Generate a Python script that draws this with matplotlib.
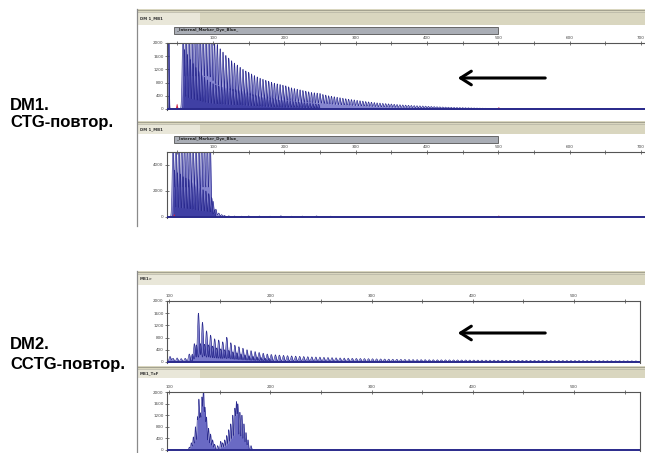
import numpy as np
import matplotlib
matplotlib.use("Agg")
import matplotlib.pyplot as plt
from matplotlib.patches import Rectangle

W, H = 645, 453

# ---- DM1, upper trace (CTG repeats, size in bp / height in RFU) ----
dm1a_pos = [58, 62, 66, 70, 74, 78, 82, 86, 90, 94, 98, 102, 106, 110, 114, 118,
            122, 126, 130, 134, 138, 142, 146, 150, 154, 158, 162, 166, 170, 174,
            178, 182, 186, 190, 194, 198, 202, 206, 210, 214, 218, 222, 226, 230,
            234, 238, 242, 246, 250, 254, 258, 262, 266, 270, 274, 278, 282, 286,
            290, 294, 298, 302, 306, 310, 314, 318, 322, 326, 330, 334, 338, 342,
            346, 350, 354, 358, 362, 366, 370, 374, 378, 382, 386, 390, 394, 398,
            402, 406, 410, 414, 418, 422, 426, 430, 434, 438, 442, 446, 450, 454,
            458, 462, 466, 470, 474, 478, 482, 486, 490]
dm1a_hts = [2600, 2600, 2600, 2600, 2600, 2600, 2600, 2600, 2600, 2600, 2450, 2050,
            1950, 1820, 1720, 1620, 1540, 1460, 1390, 1330, 1260, 1200, 1150, 1110,
            1060, 1010, 970, 930, 900, 870, 840, 810, 780, 760, 740, 720, 700, 670,
            640, 620, 600, 580, 560, 540, 520, 500, 490, 480, 470, 440, 420, 400,
            385, 370, 355, 340, 325, 310, 295, 285, 275, 262, 250, 238, 226, 215,
            205, 195, 185, 178, 170, 163, 156, 150, 142, 135, 128, 122, 117, 112,
            107, 102, 98, 94, 90, 86, 80, 76, 72, 68, 64, 60, 57, 54, 50, 47, 44,
            42, 40, 37, 35, 32, 30, 28, 26, 24, 22, 20, 18]
dm1a_stut_pos = [60, 64, 68, 72, 76, 80, 84, 88, 92, 96, 100, 104, 108, 112, 116,
                 120, 124, 128, 132, 136, 140, 144, 148, 152, 156, 160, 164, 168,
                 172, 176, 180, 184, 188, 192, 196, 200, 204, 208, 212, 216, 220,
                 224, 228, 232, 236, 240, 244, 248]
dm1a_stut_hts = [1800, 1650, 1500, 1380, 1260, 1150, 1050, 960, 880, 820, 770, 730,
                 700, 680, 660, 640, 620, 600, 590, 575, 560, 530, 500, 470, 440,
                 420, 400, 380, 360, 345, 330, 315, 300, 290, 280, 270, 255, 245,
                 235, 225, 215, 205, 195, 185, 175, 165, 155, 145]
dm1a_other_pos = [38]
dm1a_other_hts = [2600]
dm1a_red_pos = [49, 500]
dm1a_red_hts = [170, 70]

# ---- DM1, lower trace ----
dm1b_pos = [44, 48, 52, 56, 60, 64, 68, 72, 76, 80, 84, 88, 92, 96, 100, 104, 108,
            112, 116, 122, 130, 140, 150, 165, 180, 195, 210, 225, 245, 265]
dm1b_hts = [6000, 6000, 6000, 6000, 6000, 6000, 6000, 6000, 6000, 6000, 6000, 6000,
            6000, 6000, 1200, 600, 300, 180, 120, 90, 70, 60, 80, 70, 60, 90, 60,
            70, 80, 60]
dm1b_stut_pos = [46, 50, 54, 58, 62, 66, 70, 74, 78, 82, 86, 90, 94, 98, 102]
dm1b_stut_hts = [3600, 3400, 3300, 3100, 3000, 2900, 2700, 2600, 2400, 2300, 2100,
                 2000, 1800, 1500, 550]
dm1b_red_pos = [45, 500]
dm1b_red_hts = [250, 150]

# ---- DM2, upper trace (CCTG repeats) ----
dm2a_pos = [101, 104, 108, 112, 116, 120, 125, 129, 133, 137, 141, 145, 149, 153,
            157, 161, 165, 169, 173, 177, 181, 185, 189, 193, 197, 201, 205, 209,
            213, 217, 221, 225, 229, 233, 237, 241, 245, 249, 253, 257, 261, 265,
            269, 273, 277, 281, 285, 289, 293, 297, 301, 305, 309, 313, 317, 321,
            325, 329, 333, 337, 341, 345, 349, 353, 357, 361, 365, 369, 373, 377,
            381, 385, 389, 393, 397, 401, 405, 409, 413, 417, 421, 425, 429, 433,
            437, 441, 445, 449, 453, 457, 461, 465, 469, 473, 477, 481, 485, 489,
            493, 497, 501, 505, 509, 513, 517, 521, 525, 529, 533, 537, 541, 545,
            549, 553, 557, 561]
dm2a_hts = [180, 120, 130, 110, 120, 260, 600, 1600, 1300, 1020, 880, 760, 720, 660,
            810, 630, 550, 500, 450, 400, 370, 340, 310, 285, 260, 245, 235, 225,
            215, 205, 198, 190, 184, 178, 172, 166, 162, 158, 150, 145, 140, 135,
            130, 126, 122, 118, 115, 112, 110, 107, 104, 100, 97, 94, 91, 88, 86,
            84, 82, 80, 78, 76, 75, 74, 72, 71, 70, 69, 68, 67, 66, 65, 64, 63, 62,
            61, 60, 59, 58, 58, 57, 56, 55, 54, 54, 53, 52, 51, 50, 50, 49, 48, 48,
            47, 46, 46, 45, 45, 44, 44, 43, 43, 42, 42, 41, 41, 40, 40, 39, 39, 38,
            38, 37, 37, 36, 36]
dm2a_stut_pos = [123, 127, 131, 135, 139, 143, 147, 151, 155, 159, 163, 167, 171,
                 175, 179, 183, 187, 191, 195, 199]
dm2a_stut_hts = [250, 560, 600, 580, 560, 520, 460, 430, 400, 380, 330, 300, 260,
                 230, 200, 180, 160, 140, 120, 110]

# ---- DM2, lower trace ----
dm2b_pos = [120, 122, 124, 126, 128, 129.5, 131, 132.5, 134, 135.5, 137, 139, 141,
            143, 145, 148, 151, 153, 155, 157, 159, 161, 163, 165, 166.5, 168, 170,
            172, 174, 176, 178, 181]
dm2b_hts = [100, 250, 450, 800, 1100, 1700, 1200, 1750, 2100, 1400, 1100, 750, 550,
            350, 200, 150, 300, 250, 350, 500, 700, 900, 1200, 1400, 1600, 1550,
            1300, 1200, 900, 600, 350, 150]

LINE = "#2a2a8e"
LIGHT = "#8585cf"
DARK = "#4040a4"
RED = "#cc2244"


def px_axes(x0, y0, x1, y1):
    ax = fig.add_axes([x0 / W, 1 - y1 / H, (x1 - x0) / W, (y1 - y0) / H])
    ax.set_facecolor("none")
    return ax


def peak_trace(x, pos, hts, width):
    y = np.zeros_like(x)
    for p, h in zip(pos, hts):
        y += h * np.exp(-0.5 * ((x - p) / width) ** 2)
    return y


def setup_panel(ax, xlim, ylim, xmajor, xminor, yticks, right_spine):
    ax.set_xlim(*xlim)
    ax.set_ylim(*ylim)
    ax.xaxis.tick_top()
    ax.set_xticks(xmajor)
    ax.set_xticks(xminor, minor=True)
    ax.set_xticklabels([str(v) for v in xmajor])
    ax.set_yticks(yticks)
    ax.set_yticklabels([str(v) for v in yticks])
    ax.tick_params(axis="x", which="both", direction="inout", length=3,
                   width=0.5, labelsize=3, pad=1, colors="#444444")
    ax.tick_params(axis="y", direction="inout", length=3, width=0.5,
                   labelsize=3, pad=1, colors="#444444")
    for s in ax.spines.values():
        s.set_color("#555555")
        s.set_linewidth(0.8)
    ax.spines["bottom"].set_visible(False)
    ax.spines["right"].set_visible(right_spine)
    ax.axhline(0, color="#2b2b8c", lw=1.4, zorder=5)


def draw_trace(ax, pos, hts, width, fill, x, z=2):
    y = peak_trace(x, pos, hts, width)
    ax.fill_between(x, 0, y, color=fill, lw=0, zorder=z)
    ax.plot(x, y, color=LINE, lw=0.45, zorder=z + 0.5)


fig = plt.figure(figsize=(6.45, 4.53), dpi=100)

# panel 1
ax1 = px_axes(167, 43, 660, 110.3)
x1 = np.linspace(35.5, 726.6, 9000)
draw_trace(ax1, dm1a_pos, dm1a_hts, 1.1, LIGHT, x1)
draw_trace(ax1, dm1a_stut_pos, dm1a_stut_hts, 0.95, DARK, x1, z=3)
draw_trace(ax1, dm1a_other_pos, dm1a_other_hts, 0.5, LINE, x1)
ax1.fill_between(x1, 0, peak_trace(x1, dm1a_red_pos, dm1a_red_hts, 1.0), color=RED, lw=0, zorder=4)
setup_panel(ax1, (35.5, 726.6), (-40, 2000), list(range(100, 701, 100)),
            list(range(50, 701, 100)), [0, 400, 800, 1200, 1600, 2000], False)

# panel 2
ax2 = px_axes(167, 152, 660, 218)
draw_trace(ax2, dm1b_pos, dm1b_hts, 1.1, LIGHT, x1)
draw_trace(ax2, dm1b_stut_pos, dm1b_stut_hts, 0.95, DARK, x1, z=3)
ax2.fill_between(x1, 0, peak_trace(x1, dm1b_red_pos, dm1b_red_hts, 1.0), color=RED, lw=0, zorder=4)
setup_panel(ax2, (35.5, 726.6), (-80, 5000), list(range(100, 701, 100)),
            list(range(50, 701, 100)), [0, 2000, 4000], False)

# panel 3
ax3 = px_axes(167, 301, 640, 363)
x3 = np.linspace(98.0, 565.2, 8000)
draw_trace(ax3, dm2a_pos, dm2a_hts, 0.9, "#7a7acb", x3)
draw_trace(ax3, dm2a_stut_pos, dm2a_stut_hts, 1.0, DARK, x3, z=1.5)
setup_panel(ax3, (98.0, 565.2), (-35, 2000), list(range(100, 501, 100)),
            list(range(150, 551, 100)), [0, 400, 800, 1200, 1600, 2000], True)

# panel 4
ax4 = px_axes(167, 392, 640, 451)
draw_trace(ax4, dm2b_pos, dm2b_hts, 0.55, "#6a6ac4", x3)
setup_panel(ax4, (98.0, 565.2), (-35, 2000), list(range(100, 501, 100)),
            list(range(150, 551, 100)), [0, 400, 800, 1200, 1600, 2000], True)

# overlay in pixel coordinates: headers, frames, labels, arrows
ov = fig.add_axes([0, 0, 1, 1], facecolor="none")
ov.set_xlim(0, W)
ov.set_ylim(H, 0)
ov.axis("off")

for top, bottom, name, marker in [(9, 25, "DM 1_MB1", True), (121, 134, "DM 1_MB1", True),
                                  (271, 285, "MB1>", False), (366, 378, "MB1_TxF", False)]:
    ov.add_patch(Rectangle((137, top), 520, bottom - top, fc="#d9d6bf", ec="none"))
    ov.add_patch(Rectangle((137, top + 3), 63, bottom - top - 3, fc="#e9e7d9", ec="none"))
    ov.plot([137, 645], [top + 0.5, top + 0.5], color="#9a9888", lw=0.6)
    ov.plot([137, 645], [top + 3, top + 3], color="#b5b3a3", lw=0.5)
    ov.text(140, (top + bottom) / 2 + 1.5, name, fontsize=2.8, fontweight="bold",
            va="center", color="#333333")
    if marker:
        ov.add_patch(Rectangle((174, bottom + 2), 324, 6.5, fc="#a9adb5", ec="#555555", lw=0.6))
        ov.text(177, bottom + 5.3, "_Internal_Marker_Dye_Blue_", fontsize=2.8,
                fontweight="bold", va="center", color="#222222")

ov.plot([137, 137], [9, 226], color="#8a8a8a", lw=0.9)
ov.plot([137, 137], [271, 453], color="#8a8a8a", lw=0.9)

font = ["Liberation Sans", "DejaVu Sans"]
ov.text(10, 110, "DM1.", fontsize=12, fontweight="bold", family=font)
ov.text(10, 127.5, "CTG-повтор.", fontsize=12, fontweight="bold", family=font)
ov.text(10, 349, "DM2.", fontsize=12, fontweight="bold", family=font)
ov.text(10, 369.5, "CCTG-повтор.", fontsize=12, fontweight="bold", family=font)

for ya in (78, 333):
    ov.annotate("", xy=(455, ya), xytext=(548, ya),
                arrowprops=dict(arrowstyle="->, head_length=0.55, head_width=0.35",
                                lw=2.2, color="black", mutation_scale=14))

fig.savefig("out.png", dpi=100)
